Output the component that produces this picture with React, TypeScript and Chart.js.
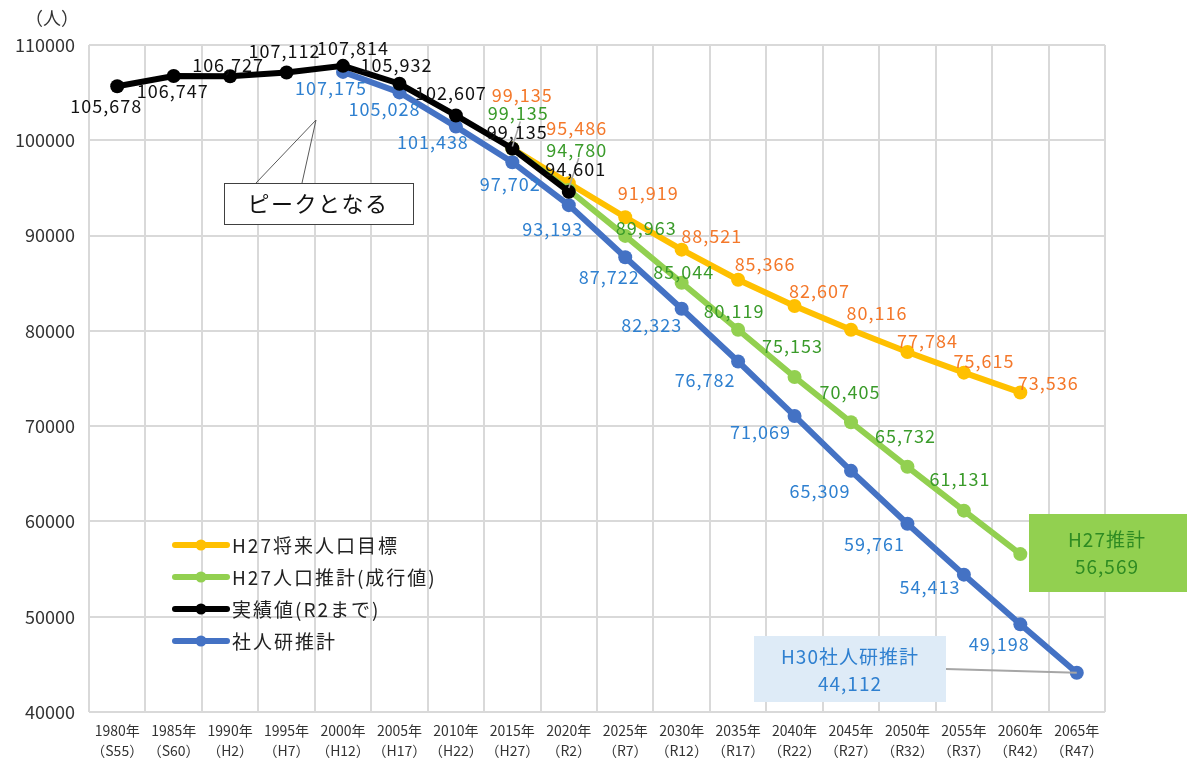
import React, { useEffect, useRef } from "react";
import { Chart, registerables } from "chart.js";
Chart.register(...registerables);

const years = ["1980年","1985年","1990年","1995年","2000年","2005年","2010年","2015年","2020年","2025年","2030年","2035年","2040年","2045年","2050年","2055年","2060年","2065年"];
const eras = ["（S55）","（S60）","（H2）","（H7）","（H12）","（H17）","（H22）","（H27）","（R2）","（R7）","（R12）","（R17）","（R22）","（R27）","（R32）","（R37）","（R42）","（R47）"];

const actual = [105678,106747,106727,107112,107814,105932,102607,99135,94601,null,null,null,null,null,null,null,null,null];
const ipss = [null,null,null,null,107175,105028,101438,97702,93193,87722,82323,76782,71069,65309,59761,54413,49198,44112];
const h27Trend = [null,null,null,null,null,null,null,99135,94780,89963,85044,80119,75153,70405,65732,61131,56569,null];
const h27Target = [null,null,null,null,null,null,null,99135,95486,91919,88521,85366,82607,80116,77784,75615,73536,null];

const legendNames = ["H27将来人口目標","H27人口推計(成行値)","実績値(R2まで)","社人研推計"];
const yMin = 40000, yMax = 110000, yStep = 10000;

// label offsets [dx, dy] per category index (null = no label)
const actualOff = [[-11,20],[-1,15],[-2,-11],[-2,-21],[10,-18],[-3,-19],[-5,-22],[5,-16],[7,-23]];
const ipssOff = [null,null,null,null,[-12,16],[-15,17],[-23,16],[-2,22],[-16,24],[-16,20],[-30,16],[-33,19],[-34,16],[-31,20],[-33,20],[-34,12],[-21,20],null];
const trendOff = [null,null,null,null,null,null,null,[6,-35],[8,-40],[21,-8],[2,-11],[-4,-19],[-2,-31],[-1,-30],[-2,-31],[-4,-31],null];
const targetOff = [null,null,null,null,null,null,null,[10,-53],[8,-55],[23,-24],[30,-14],[27,-16],[25,-15],[26,-17],[20,-11],[20,-11],[28,-9]];

const FONT = "'Noto Sans CJK JP', 'Noto Sans', sans-serif";
const C = {
  orange: "#FFC000", orangeT: "#F4782A",
  green: "#92D050", greenT: "#3A9B2A",
  black: "#000000", blackT: "#111111",
  blue: "#4472C4", blueT: "#2F80D0",
  grid: "#D9D9D9",
};

const fmt = (v: number) => v.toLocaleString("en-US");

const overlay = {
  id: "overlay",
  afterDatasetsDraw(chart: any) {
    const ctx = chart.ctx;
    const specs = [
      { ds: 0, off: actualOff, color: C.blackT },
      { ds: 1, off: ipssOff, color: C.blueT },
      { ds: 2, off: trendOff, color: C.greenT },
      { ds: 3, off: targetOff, color: C.orangeT },
    ];
    ctx.save();
    const gm = chart.getDatasetMeta(2);
    ctx.strokeStyle = "#A6A6A6";
    ctx.lineWidth = 1.5;
    [7, 8].forEach((i) => {
      const p = gm.data[i];
      const o = trendOff[i] as number[];
      ctx.beginPath();
      ctx.moveTo(p.x + o[0] + 2, p.y + o[1] + 8);
      ctx.lineTo(p.x, p.y - 2);
      ctx.stroke();
    });
    ctx.font = `18px ${FONT}`;
    (ctx as any).letterSpacing = "1px";
    ctx.textAlign = "center";
    ctx.textBaseline = "middle";
    specs.forEach((s) => {
      const meta = chart.getDatasetMeta(s.ds);
      const data = chart.data.datasets[s.ds].data;
      meta.data.forEach((pt: any, i: number) => {
        const v = data[i];
        const o = s.off[i];
        if (v == null || !o) return;
        ctx.fillStyle = s.color;
        ctx.fillText(fmt(v), pt.x + o[0], pt.y + o[1]);
      });
    });
    ctx.restore();
  },
  afterDraw(chart: any) {
    const ctx = chart.ctx;
    ctx.save();
    ctx.fillStyle = "#333";
    ctx.font = `18px ${FONT}`;
    ctx.textAlign = "center";
    ctx.textBaseline = "middle";
    ctx.fillText("（人）", 52, 18);

    // peak callout
    ctx.strokeStyle = "#595959";
    ctx.lineWidth = 1;
    ctx.beginPath();
    ctx.moveTo(256, 183); ctx.lineTo(316, 120); ctx.lineTo(302, 183);
    ctx.stroke();
    ctx.fillStyle = "#fff";
    ctx.fillRect(224, 183, 189, 41);
    ctx.strokeStyle = "#404040";
    ctx.strokeRect(224.5, 183.5, 189, 41);
    ctx.fillStyle = "#111";
    ctx.font = `22px ${FONT}`;
    (ctx as any).letterSpacing = "1.5px";
    ctx.fillText("ピークとなる", 318, 204);

    // H27 box
    ctx.fillStyle = "#92D050";
    ctx.fillRect(1029, 514, 160, 78);
    ctx.fillStyle = "#2E8B22";
    ctx.font = `19px ${FONT}`;
    (ctx as any).letterSpacing = "1px";
    ctx.fillText("H27推計", 1107, 540);
    ctx.fillText(fmt(h27Trend[16] as number), 1107, 567);

    // H30 box
    const bm = chart.getDatasetMeta(1);
    const last = bm.data[17];
    ctx.strokeStyle = "#A6A6A6";
    ctx.lineWidth = 2;
    ctx.beginPath();
    ctx.moveTo(946, 669); ctx.lineTo(last.x, last.y);
    ctx.stroke();
    ctx.fillStyle = "#DEEBF7";
    ctx.fillRect(754, 636, 192, 66);
    ctx.fillStyle = C.blueT;
    ctx.fillText("H30社人研推計", 850, 657);
    ctx.fillText(fmt(ipss[17] as number), 850, 684);

    // legend
    const items = [
      { name: legendNames[0], color: C.orange },
      { name: legendNames[1], color: C.green },
      { name: legendNames[2], color: C.black },
      { name: legendNames[3], color: C.blue },
    ];
    const ys = [545, 577, 609, 641];
    ctx.textAlign = "left";
    ctx.font = `19px ${FONT}`;
    (ctx as any).letterSpacing = "2px";
    items.forEach((it, k) => {
      const y = ys[k];
      ctx.strokeStyle = it.color;
      ctx.lineWidth = 6;
      ctx.lineCap = "round";
      ctx.beginPath();
      ctx.moveTo(175, y); ctx.lineTo(227, y);
      ctx.stroke();
      ctx.fillStyle = it.color;
      ctx.beginPath();
      ctx.arc(201, y, 5.5, 0, Math.PI * 2);
      ctx.fill();
      ctx.fillStyle = "#222";
      ctx.fillText(it.name, 232, y + 1);
    });
    ctx.restore();
  },
};

export default function App() {
  const ref = useRef<HTMLCanvasElement>(null);
  useEffect(() => {
    if (!ref.current) return;
    const mk = (label: string, data: any[], color: string) => ({
      label, data,
      borderColor: color, backgroundColor: color,
      pointBackgroundColor: color, pointBorderColor: color,
      borderWidth: 6, pointRadius: 7, pointBorderWidth: 0,
      tension: 0, spanGaps: false,
    });
    const chart = new Chart(ref.current, {
      type: "line",
      data: {
        labels: years.map((y, i) => [y, eras[i]]),
        datasets: [
          mk(legendNames[2], actual, C.black),
          mk(legendNames[3], ipss, C.blue),
          mk(legendNames[1], h27Trend, C.green),
          mk(legendNames[0], h27Target, C.orange),
        ],
      },
      options: {
        responsive: false,
        animation: false,
        layout: { padding: { left: 0, top: 45, right: 82, bottom: 0 } },
        plugins: { legend: { display: false }, tooltip: { enabled: false } },
        scales: {
          x: {
            offset: true,
            grid: { offset: true, color: C.grid, lineWidth: 2, drawTicks: false },
            border: { display: false },
            ticks: {
              color: "#333",
              font: { family: FONT, size: 14, lineHeight: 1.4 },
              padding: 9,
              maxRotation: 0,
              autoSkip: false,
            },
            afterFit: (s: any) => { s.height = 48; },
          },
          y: {
            min: yMin, max: yMax,
            grid: { color: C.grid, lineWidth: 2, drawTicks: false },
            border: { display: false },
            ticks: {
              stepSize: yStep,
              color: "#333",
              padding: 14,
              font: { family: FONT, size: 18 },
              callback: (v: any) => String(v),
            },
            afterFit: (s: any) => { s.width = 89; },
          },
        },
      },
      plugins: [overlay],
    } as any);
    return () => chart.destroy();
  }, []);
  return (
    <div style={{ position: "absolute", left: 0, top: 0, width: 1187, height: 760, background: "#fff" }}>
      <canvas ref={ref} width={1187} height={760} style={{ display: "block" }} />
    </div>
  );
}
